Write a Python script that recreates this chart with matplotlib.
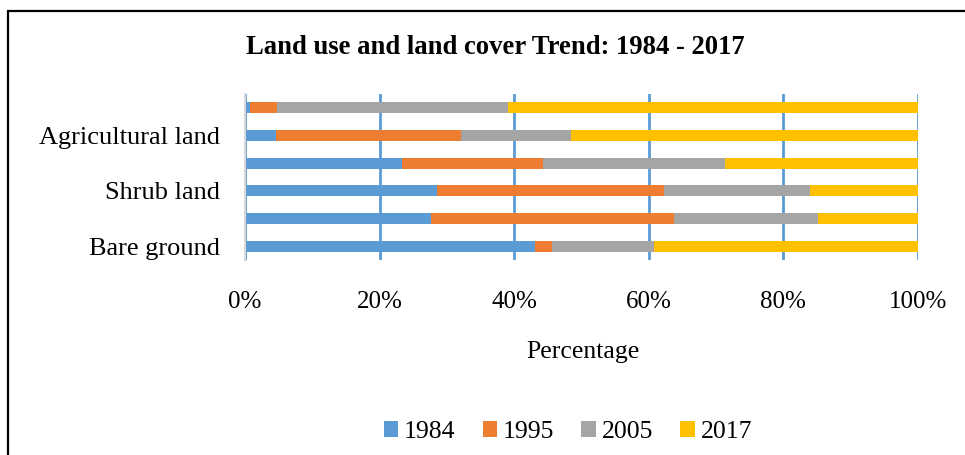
import matplotlib
matplotlib.use("Agg")
import matplotlib.pyplot as plt
from matplotlib.patches import Rectangle, Patch
import numpy as np

plt.rcParams['font.family'] = ['Liberation Serif', 'DejaVu Serif']

# bottom-to-top category tick labels (alternate labels hidden as in the reference)
tick_labels = ["Bare ground", "", "Shrub land", "", "Agricultural land", ""]
years = ["1984", "1995", "2005", "2017"]
v1984 = [43.1, 27.7, 28.6, 23.3, 4.6, 0.7]
v1995 = [2.5, 36.1, 33.7, 21.0, 27.5, 4.1]
v2005 = [15.2, 21.3, 21.6, 27.0, 16.4, 34.3]
v2017 = [39.2, 14.9, 16.1, 28.7, 51.5, 60.9]
series = [v1984, v1995, v2005, v2017]
colors = ["#5B9BD5", "#ED7D31", "#A5A5A5", "#FFC000"]

W, H = 965, 455
fig = plt.figure(figsize=(W / 100, H / 100), dpi=100)
fig.patches.append(Rectangle((8 / W, -0.1), 1.1, (H - 11) / H + 0.1, transform=fig.transFigure,
                             fill=False, edgecolor="black", linewidth=1.6))

ax = fig.add_axes([245 / W, (H - 260) / H, 673 / W, 166 / H])
y = np.arange(len(tick_labels))
data = np.array(series, dtype=float)
totals = data.sum(axis=0)
pct = data / totals * 100
left = np.zeros(len(tick_labels))
for vals, c, lab in zip(pct, colors, years):
    ax.barh(y, vals, left=left, height=0.4, color=c, label=lab, zorder=3)
    left += vals

ax.set_xlim(0, 100)
ax.set_ylim(-0.5, len(tick_labels) - 0.5)
ax.set_xticks(np.arange(0, 101, 20))
ax.set_xticklabels([f"{v}%" for v in range(0, 101, 20)], fontsize=18)
ax.set_yticks(y)
ax.set_yticklabels(tick_labels, fontsize=19)
ax.tick_params(axis='both', length=0)
ax.tick_params(axis='x', pad=22)
ax.tick_params(axis='y', pad=18)
ax.xaxis.grid(True, color="#5B9BD5", linewidth=2, zorder=1)
ax.yaxis.grid(False)
for s in ["top", "right", "bottom"]:
    ax.spines[s].set_visible(False)
ax.spines["left"].set_color("#D9D9D9")
ax.spines["left"].set_linewidth(1.5)
ax.spines["left"].set_zorder(4)

fig.text(495 / W, 1 - 47 / H, "Land use and land cover Trend: 1984 - 2017",
         ha="center", va="center", fontsize=19.2, fontweight="bold")
fig.text(583 / W, 1 - 352 / H, "Percentage", ha="center", va="center", fontsize=18.5)

handles = [Patch(facecolor=c, label=l) for c, l in zip(colors, years)]
fig.legend(handles=handles, loc="center", bbox_to_anchor=(568 / W, 1 - 432 / H), ncol=4,
           frameon=False, fontsize=18.5, handlelength=0.55, handleheight=0.55,
           handletextpad=0.25, columnspacing=1.05, borderpad=0)

fig.savefig("out.png", dpi=100)
